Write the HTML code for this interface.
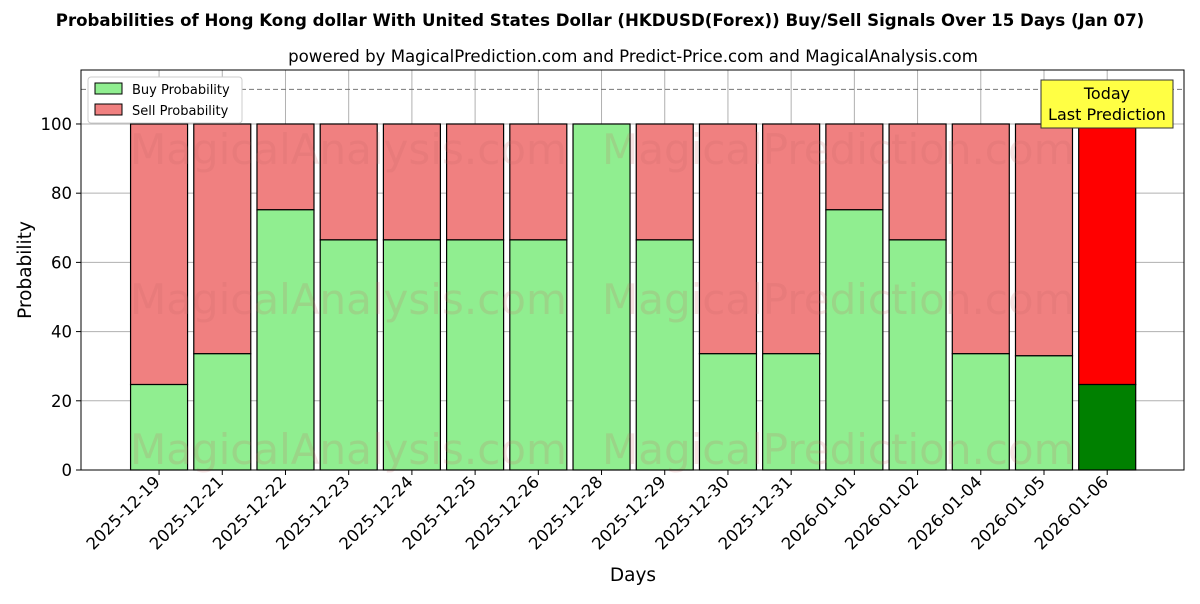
<!DOCTYPE html>
<html><head><meta charset="utf-8"><style>
body{margin:0;background:#fff;font-family:"DejaVu Sans","Liberation Sans",sans-serif}
</style></head><body>
<svg id="c" width="1200" height="600" xmlns="http://www.w3.org/2000/svg">
<text x="600" y="26" text-anchor="middle" font-size="16.6" font-weight="bold">Probabilities of Hong Kong dollar With United States Dollar (HKDUSD(Forex)) Buy/Sell Signals Over 15 Days (Jan 07)</text>
<text x="633" y="62" text-anchor="middle" font-size="16.6">powered by MagicalPrediction.com and Predict-Price.com and MagicalAnalysis.com</text>
<g id="grid"></g><g id="bars"></g>
<g font-size="42" fill="rgba(200,100,100,0.18)">
<text x="130" y="164">MagicalAnalysis.com</text><text x="602" y="164">MagicalPrediction.com</text>
<text x="130" y="314">MagicalAnalysis.com</text><text x="602" y="314">MagicalPrediction.com</text>
<text x="130" y="464">MagicalAnalysis.com</text><text x="602" y="464">MagicalPrediction.com</text>
</g>
<line x1="81" x2="1184" y1="89.4" y2="89.4" stroke="#777" stroke-dasharray="5,3"/>
<rect x="81" y="70" width="1103" height="400" fill="none" stroke="#000"/>
<g id="ticks"></g>
<text x="633" y="581" text-anchor="middle" font-size="18.5">Days</text>
<text transform="translate(31,270) rotate(-90)" text-anchor="middle" font-size="18.5">Probability</text>
<g>
<rect x="88" y="77" width="154" height="46" fill="#fff" stroke="#ccc" rx="3"/>
<rect x="95" y="83" width="27" height="11" fill="lightgreen" stroke="#000"/>
<text x="132" y="94" font-size="13">Buy Probability</text>
<rect x="95" y="104" width="27" height="11" fill="lightcoral" stroke="#000"/>
<text x="132" y="115" font-size="13">Sell Probability</text>
</g>
<g>
<rect x="1041" y="80" width="132" height="48" fill="#ffff44" stroke="#333"/>
<text x="1107" y="99" text-anchor="middle" font-size="16">Today</text>
<text x="1107" y="120" text-anchor="middle" font-size="16">Last Prediction</text>
</g>
</svg>
<script>
const categories=["2025-12-19","2025-12-21","2025-12-22","2025-12-23","2025-12-24","2025-12-25","2025-12-26","2025-12-28","2025-12-29","2025-12-30","2025-12-31","2026-01-01","2026-01-02","2026-01-04","2026-01-05","2026-01-06"];
const buyValues=[24.7,33.6,75.2,66.5,66.5,66.5,66.5,100,66.5,33.6,33.6,75.2,66.5,33.6,33,24.7];
const yTicks=[0,20,40,60,80,100];
const NS="http://www.w3.org/2000/svg";
const X0=81,X1=1184,Y0=470,Y1=70,XMIN=-1.235,XMAX=16.215,YMAX=115.6;
const xs=i=>X0+(i-XMIN)/(XMAX-XMIN)*(X1-X0);
const ys=v=>Y0-v/YMAX*(Y0-Y1);
function mk(t,a,p){const e=document.createElementNS(NS,t);for(const k in a)e.setAttribute(k,a[k]);p.appendChild(e);return e;}
const grid=document.getElementById('grid'),bars=document.getElementById('bars'),ticks=document.getElementById('ticks');
const bw=57/((X1-X0)/(XMAX-XMIN));
yTicks.forEach(v=>{
 const l=mk('line',{x1:X0,x2:X1,y1:ys(v),y2:ys(v),stroke:'#b0b0b0'},grid);
 
 
 mk('line',{x1:X0-5,x2:X0,y1:ys(v),y2:ys(v),stroke:'#000'},ticks);
 const t=mk('text',{x:X0-9,y:ys(v)+6,'text-anchor':'end','font-size':16.5},ticks);t.textContent=v;
 
 
});
categories.forEach((c,i)=>{
 const cx=xs(i);
 const g=mk('line',{x1:cx,x2:cx,y1:Y1,y2:Y0,stroke:'#b0b0b0'},grid);
 
 
 const last=i===categories.length-1;
 const left=xs(i-bw/2),w=xs(i+bw/2)-left;
 const b=buyValues[i];
 const s=mk('rect',{x:left,y:ys(100),width:w,height:ys(b)-ys(100),fill:last?'red':'lightcoral',stroke:'#000','stroke-width':1.2},bars);
 
 
 const r=mk('rect',{x:left,y:ys(b),width:w,height:Y0-ys(b),fill:last?'green':'lightgreen',stroke:'#000','stroke-width':1.2},bars);
 
 
 mk('line',{x1:cx,x2:cx,y1:Y0,y2:Y0+5,stroke:'#000'},ticks);
 const t=mk('text',{transform:`translate(${cx+2},${Y0+13}) rotate(-45)`,'text-anchor':'end','font-size':16.5},ticks);t.textContent=c;
 
 
});
</script>
</body></html>
